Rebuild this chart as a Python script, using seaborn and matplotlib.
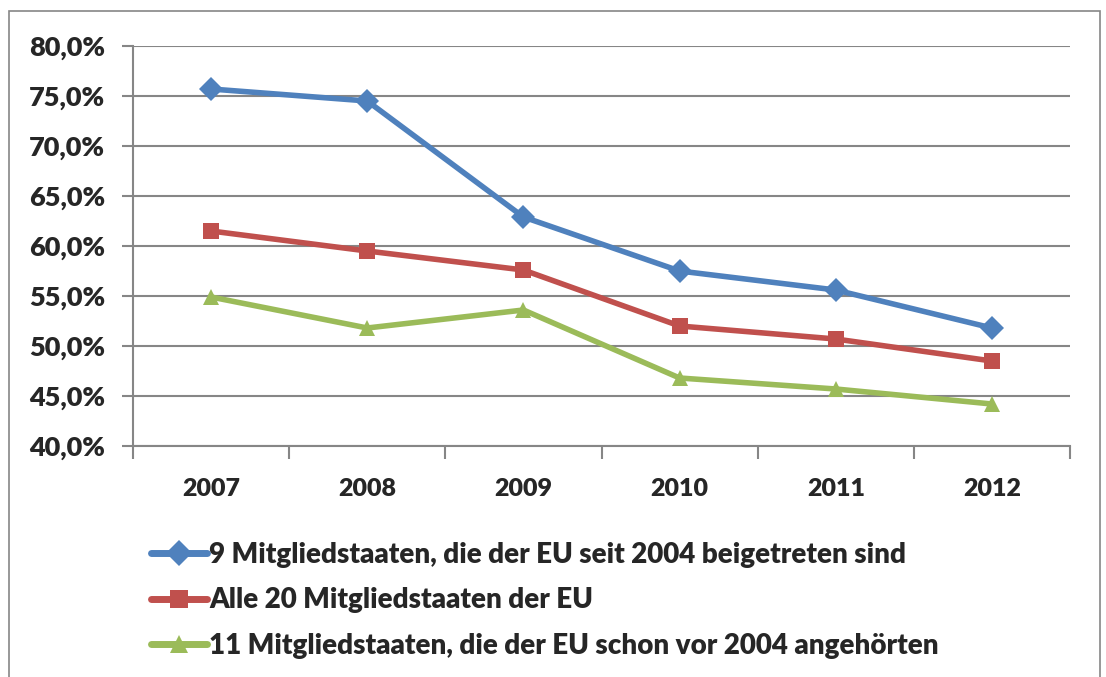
import numpy as np
import pandas as pd
import matplotlib
matplotlib.use("Agg")
import matplotlib.pyplot as plt
from matplotlib.patches import Rectangle
from matplotlib.ticker import FuncFormatter, FixedLocator
import seaborn as sns

years = ["2007", "2008", "2009", "2010", "2011", "2012"]
series_names = [
    "9 Mitgliedstaaten, die der EU seit 2004 beigetreten sind",
    "Alle 20 Mitgliedstaaten der EU",
    "11 Mitgliedstaaten, die der EU schon vor 2004 angehörten",
]
neu_9 = [75.7, 74.5, 62.9, 57.5, 55.6, 51.8]
alle_20 = [61.5, 59.5, 57.6, 52.0, 50.7, 48.5]
alt_11 = [54.9, 51.8, 53.6, 46.8, 45.7, 44.2]

colors = ["#4F81BD", "#C0504D", "#9BBB59"]
markers = ["D", "s", "^"]

sns.set_theme(style="white")
plt.rcParams["font.family"] = ["Lato", "DejaVu Sans"]
plt.rcParams["font.weight"] = "heavy"

rows = []
for name, vals in zip(series_names, [neu_9, alle_20, alt_11]):
    for i, v in enumerate(vals):
        rows.append({"pos": i, "value": v, "series": name})
df = pd.DataFrame(rows)

fig = plt.figure(figsize=(11.06, 6.77), dpi=100)
ax = fig.add_axes([133 / 1106, 1 - 446 / 677, (1070 - 133) / 1106, 400 / 677])

sns.lineplot(data=df, x="pos", y="value", hue="series", style="series",
             hue_order=series_names, style_order=series_names,
             palette=colors, markers=dict(zip(series_names, markers)),
             dashes=False, linewidth=4, markersize=12,
             markeredgewidth=0, ax=ax, legend=False)

ax.set_xlim(-0.5, 5.5)
ax.set_ylim(40, 80)
ax.yaxis.set_major_locator(FixedLocator(np.arange(40, 80.1, 5)))
ax.yaxis.set_major_formatter(
    FuncFormatter(lambda v, _: f"{v:.1f}%".replace(".", ",")))
ax.xaxis.set_major_locator(FixedLocator(np.arange(-0.5, 5.6, 1)))
ax.xaxis.set_minor_locator(FixedLocator(range(len(years))))
ax.set_xticklabels([""] * 7)
ax.set_xticklabels(years, minor=True)
ax.tick_params(axis="x", which="major", length=9, width=1.5, color="#868686",
               direction="out", bottom=True)
ax.tick_params(axis="x", which="minor", length=0, pad=23, labelsize=18)
ax.tick_params(axis="y", length=8, width=1.5, color="#868686",
               direction="out", left=True, labelsize=19.5, pad=12)
for lab in ax.get_xticklabels(minor=True) + ax.get_yticklabels():
    lab.set_fontweight("heavy")

ax.grid(axis="y", color="#868686", linewidth=1.5)
ax.set_axisbelow(True)
for s in ["top", "right"]:
    ax.spines[s].set_visible(False)
for s in ["left", "bottom"]:
    ax.spines[s].set_color("#868686")
    ax.spines[s].set_linewidth(1.5)
ax.set_xlabel("")
ax.set_ylabel("")

handles = [plt.Line2D([], [], color=c, marker=m, linewidth=5, markersize=13,
                      markeredgewidth=0) for c, m in zip(colors, markers)]
fig.legend(handles, series_names, loc="upper left",
           bbox_to_anchor=(126 / 1106, 1 - 517 / 677), frameon=False,
           handlelength=2.0, handletextpad=0.1, labelspacing=0.7,
           prop={"size": 20, "weight": "heavy"})

fig.add_artist(Rectangle((9 / 1106, -0.05), (1100 - 9) / 1106, 1.05 - 11 / 677,
                         transform=fig.transFigure, fill=False,
                         edgecolor="#868686", linewidth=1.2))

fig.savefig("out.png", dpi=100)
